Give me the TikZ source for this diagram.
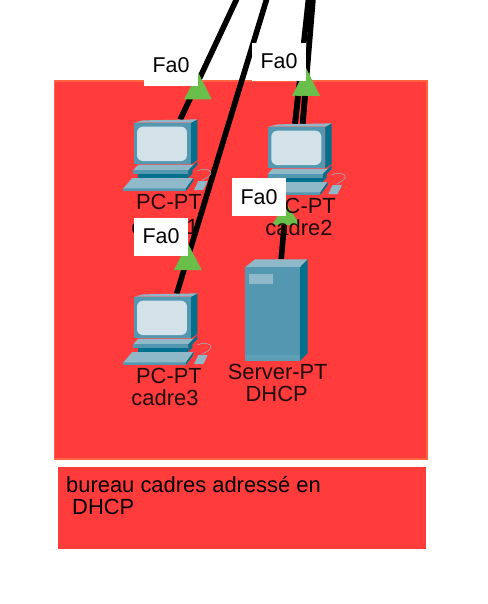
\documentclass[tikz,border=0pt]{standalone}
\usepackage{fontspec}
\setmainfont{Liberation Sans}
\definecolor{zone}{HTML}{FF3B3B}
\definecolor{zoneedge}{HTML}{FF6340}
\definecolor{tri}{HTML}{6ABF4B}
\definecolor{front}{HTML}{5398B0}
\definecolor{topf}{HTML}{8FB9C9}
\definecolor{sidef}{HTML}{00708C}
\definecolor{screenf}{HTML}{D3E2E9}
\definecolor{devtext}{HTML}{1F0A0A}
\tikzset{
  x=1bp,y=-1bp,
  link/.style={line width=5.6bp,black},
  devbox/.style={inner sep=0pt,minimum width=63bp,minimum height=60bp,anchor=north west},
  tag/.style={fill=white,inner sep=0pt,minimum width=54bp,minimum height=38bp,font=\fontsize{22}{22}\selectfont,text=black},
  taglabel/.style={anchor=base,inner sep=0pt,font=\fontsize{21.5}{22}\selectfont,text=black},
  devlabel/.style={anchor=base,inner sep=0pt,font=\fontsize{22}{22}\selectfont,text=devtext},
  pcicon/.pic={
    \begin{scope}[x=0.3333bp,y=-0.3333bp]
      \fill[sidef] (171,0) -- (190,-10) -- (190,112) -- (171,125) -- cycle;
      \fill[topf] (0,0) -- (28,-7) -- (190,-10) -- (171,0) -- cycle;
      \fill[front] (0,0) rectangle (171,125);
      \fill[screenf,rounded corners=6bp] (9,12) rectangle (159,115);
      \draw[topf,line width=.5bp] (190,145) .. controls (205,135) and (235,140) .. (231,152) .. controls (228,162) and (212,168) .. (203,173);
      \fill[sidef] (163,142) -- (190,116) -- (190,127) -- (163,155) -- cycle;
      \fill[sidef] (163,155) -- (175,143) -- (175,153) -- (163,165) -- cycle;
      \fill[topf] (13,126) -- (178,126) -- (163,142) -- (-2,142) -- cycle;
      \fill[front] (-2,142) rectangle (163,155);
      \fill[sidef] (13,155) rectangle (163,165);
      \fill[front] (-32,197) rectangle (156,205);
      \fill[topf] (-32,197) -- (-5,166) -- (178,166) -- (156,197) -- cycle;
      \fill[sidef] (156,205) -- (178,175) -- (178,166) -- (156,197) -- cycle;
      \fill[topf] (180,202) -- (193,175) -- (221,175) -- (208,202) -- cycle;
    \end{scope}
  },
  servericon/.pic={
    \begin{scope}[x=0.3333bp,y=-0.3333bp]
      \fill[topf] (0,0) -- (30,-24) -- (188,-24) -- (165,0) -- cycle;
      \fill[sidef] (165,0) -- (188,-24) -- (188,258) -- (165,281) -- cycle;
      \fill[front] (0,0) rectangle (165,281);
      \fill[topf] (12,21) rectangle (85,51);
      \fill[front!80!topf] (0,263) rectangle (165,281);
    \end{scope}
  }
}
\begin{document}
\begin{tikzpicture}
  \useasboundingbox (0,0) rectangle (488,604);
  \fill[white] (0,0) rectangle (488,604);
  \draw[fill=zone,draw=zoneedge,line width=1.5bp] (54.5,81) rectangle (427,459);
  \node[fill=zone,inner sep=0pt,minimum width=368bp,minimum height=82bp,anchor=north west] (note) at (58,467) {};
  \node[anchor=base west,inner sep=0pt,align=left,font=\fontsize{22}{22}\selectfont,text=black] (notetext) at (66,514) {bureau cadres adressé en\\\hspace*{6bp}DHCP};

  % device anchors
  \node[devbox] (pc1) at (134,119.7) {};
  \node[devbox] (pc2) at (268.3,123.7) {};
  \node[devbox] (pc3) at (134,293.7) {};
  \node[devbox,minimum height=100bp] (srv) at (245,259) {};

  % free ends above the picture
  \coordinate (up1) at (236.7,-1);
  \coordinate (up3) at (266.7,-1);
  \coordinate (up2a) at (308.5,-1);
  \coordinate (up2b) at (313,-1);

  % connectors
  \draw[link] (up1) -- ([xshift=14.5bp]pc1.north);
  \draw[link] (up3) -- ([xshift=11bp]pc3.north);
  \draw[link] (up2a) -- ([xshift=-5bp]pc2.north);
  \draw[link] (up2b) -- ([xshift=2.7bp]pc2.north);

  % link-state triangles
  \fill[tri] (198.3,72.7) -- (211.7,99.3) -- (184,99.3) -- cycle;
  \fill[tri] (306,68) -- (320,96) -- (292,96) -- cycle;
  \draw[link] ([xshift=-5bp]pc2.north) -- (298,96);
  \draw[link] ([xshift=2.7bp]pc2.north) -- (305,96);
  \node[inner sep=0pt,minimum size=0pt] (tri3) at (286,203) {};
  \fill[tri] (286,203) -- (300,225) -- (272,225) -- cycle;
  \draw[link] (284.2,225) -- ([xshift=4.5bp]srv.north);
  \fill[tri] (187.7,243) -- (201.7,270) -- (174,270) -- cycle;

  % devices
  \pic at (134,122.7) {pcicon};
  \pic at (268.3,126.7) {pcicon};
  \pic at (134,296.7) {pcicon};
  \pic at (245,267.3) {servericon};

  % device labels
  \node[devlabel] (l1a) at (169,209) {PC-PT};
  \node[devlabel] (l1b) at (165,234) {cadre1};
  \node[devlabel] (l2a) at (303,213) {PC-PT};
  \node[devlabel] (l2b) at (299,235) {cadre2};
  \node[devlabel] (l3a) at (169,383.5) {PC-PT};
  \node[devlabel] (l3b) at (165,405) {cadre3};
  \node[devlabel] (l4a) at (277.7,379) {Server-PT};
  \node[devlabel] (l4b) at (276.7,401) {DHCP};

  % port tags
  \node[tag] (t1) at (171,67) {};
  \node[tag] (t2) at (279,62.5) {};
  \node[tag] (t3) at (259,197) {};
  \node[tag] (t4) at (161,237) {};
  \node[taglabel] at (171,73) {Fa0};
  \node[taglabel] at (279,69) {Fa0};
  \node[taglabel] at (259,204) {Fa0};
  \node[taglabel] at (161,243) {Fa0};
\end{tikzpicture}
\end{document}
